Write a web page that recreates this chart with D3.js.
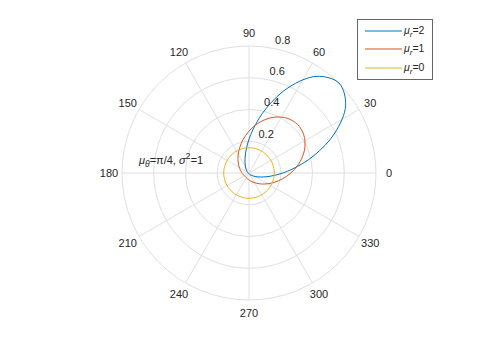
<!DOCTYPE html>
<html>
<head>
<meta charset="utf-8">
<script src="https://cdn.jsdelivr.net/npm/d3@7"></script>
<style>
  html, body { margin: 0; padding: 0; background: #ffffff; }
  svg { display: block; font-family: "Liberation Sans", Arial, Helvetica, sans-serif; }
</style>
</head>
<body>
<svg id="chart" width="480" height="360"></svg>
<script>
// Angles (degrees, counter-clockwise from 0°) at which the curves were read
const angles = [5,15,25,35,45,55,65,75,85,95,105,115,125,135,145,155,165,175,
                185,195,205,215,225,235,245,255,265,275,285,295,305,315,325,335,345,355];

// Radial values for each series
const seriesMu2 = [0.2722,0.4232,0.5970,0.7432,0.8013,0.7432,0.5970,0.4232,0.2722,0.1644,0.0964,0.0567,
                   0.0342,0.0215,0.0143,0.0100,0.0074,0.0058,0.0048,0.0041,0.0037,0.0035,0.0034,0.0035,
                   0.0037,0.0041,0.0048,0.0058,0.0074,0.0100,0.0143,0.0215,0.0342,0.0567,0.0964,0.1644];
const seriesMu1 = [0.2900,0.3425,0.3887,0.4207,0.4322,0.4207,0.3887,0.3425,0.2900,0.2380,0.1913,0.1521,
                   0.1208,0.0965,0.0781,0.0644,0.0542,0.0468,0.0414,0.0376,0.0351,0.0337,0.0332,0.0337,
                   0.0351,0.0376,0.0414,0.0468,0.0542,0.0644,0.0781,0.0965,0.1208,0.1521,0.1913,0.2380];
const seriesMu0 = [0.1592,0.1592,0.1592,0.1592,0.1592,0.1592,0.1592,0.1592,0.1592,0.1592,0.1592,0.1592,
                   0.1592,0.1592,0.1592,0.1592,0.1592,0.1592,0.1592,0.1592,0.1592,0.1592,0.1592,0.1592,
                   0.1592,0.1592,0.1592,0.1592,0.1592,0.1592,0.1592,0.1592,0.1592,0.1592,0.1592,0.1592];

const seriesNames = ["2", "1", "0"];
const seriesColors = ["#0072BD", "#D95319", "#EDB120"];

// Tick labels
const rTicks = [0.2, 0.4, 0.6, 0.8];
const rTickLabels = ["0.2", "0.4", "0.6", "0.8"];
const thetaTicks = [0, 30, 60, 90, 120, 150, 180, 210, 240, 270, 300, 330];
const thetaTickLabels = ["0","30","60","90","120","150","180","210","240","270","300","330"];

// ---- drawing ----
const svg = d3.select("#chart");
const cx = 249, cy = 173, R = 127;
const textColor = "#262626";
const gridColor = "#dfdfdf";

const r = d3.scaleLinear().domain([0, 0.8]).range([0, R]);
const toRad = d => d * Math.PI / 180;
// d3 radial angle: clockwise from 12 o'clock
const d3Angle = deg => Math.PI / 2 - toRad(deg);

const g = svg.append("g").attr("transform", `translate(${cx},${cy})`);

// grid circles
g.selectAll("circle.grid").data(rTicks).join("circle")
  .attr("class", "grid")
  .attr("r", d => r(d))
  .attr("fill", "none")
  .attr("stroke", gridColor)
  .attr("stroke-width", 1);

// spokes
g.selectAll("line.spoke").data(thetaTicks).join("line")
  .attr("class", "spoke")
  .attr("x1", 0).attr("y1", 0)
  .attr("x2", d => r(0.8) * Math.cos(toRad(d)))
  .attr("y2", d => -r(0.8) * Math.sin(toRad(d)))
  .attr("stroke", gridColor)
  .attr("stroke-width", 1);

// theta labels
g.selectAll("text.tlab").data(thetaTicks).join("text")
  .attr("class", "tlab")
  .attr("x", d => (R + 13) * Math.cos(toRad(d)))
  .attr("y", d => -(R + 13) * Math.sin(toRad(d)))
  .attr("dy", "0.35em")
  .attr("text-anchor", "middle")
  .attr("font-size", 11)
  .attr("fill", textColor)
  .text((d, i) => thetaTickLabels[i]);

// data curves
const allSeries = [seriesMu2, seriesMu1, seriesMu0];
const line = d3.lineRadial()
  .angle(d => d3Angle(d[0]))
  .radius(d => r(d[1]))
  .curve(d3.curveCatmullRomClosed.alpha(0.5));

allSeries.forEach((vals, k) => {
  const pts = angles.map((a, i) => [a, vals[i]]);
  g.append("path")
    .attr("d", line(pts))
    .attr("fill", "none")
    .attr("stroke", seriesColors[k])
    .attr("stroke-width", 1);
});

// r tick labels at 80 degrees
const rAxisAngle = 80;
g.selectAll("text.rlab").data(rTicks).join("text")
  .attr("class", "rlab")
  .attr("x", d => r(d) * Math.cos(toRad(rAxisAngle)) + 4)
  .attr("y", d => -r(d) * Math.sin(toRad(rAxisAngle)) - 8)
  .attr("dy", "0.35em")
  .attr("text-anchor", "start")
  .attr("font-size", 11)
  .attr("fill", textColor)
  .text((d, i) => rTickLabels[i]);

// annotation
const ann = svg.append("text")
  .attr("x", 139).attr("y", 164)
  .attr("font-size", 11)
  .attr("fill", textColor);
ann.append("tspan").attr("font-style", "italic").text("μ");
ann.append("tspan").attr("font-style", "italic").attr("font-size", 8.5).attr("dy", 3).text("θ");
ann.append("tspan").attr("dy", -3).text("=π/4, ");
ann.append("tspan").attr("font-style", "italic").text("σ");
ann.append("tspan").attr("font-size", 9).attr("dy", -5).text("2");
ann.append("tspan").attr("dy", 5).text("=1");

// legend
const leg = svg.append("g");
leg.append("rect")
  .attr("x", 357.5).attr("y", 19.5)
  .attr("width", 75).attr("height", 60)
  .attr("fill", "#ffffff")
  .attr("stroke", "#666666")
  .attr("stroke-width", 1);
const rowY = [31, 49, 68];
seriesNames.forEach((name, k) => {
  leg.append("line")
    .attr("x1", 365).attr("x2", 402)
    .attr("y1", rowY[k]).attr("y2", rowY[k])
    .attr("stroke", seriesColors[k])
    .attr("stroke-width", 1);
  const t = leg.append("text")
    .attr("x", 404).attr("y", rowY[k] + 3)
    .attr("font-size", 10.5)
    .attr("fill", textColor);
  t.append("tspan").attr("font-style", "italic").text("μ");
  t.append("tspan").attr("font-style", "italic").attr("font-size", 8).attr("dy", 3).text("r");
  t.append("tspan").attr("dy", -3).text("=" + name);
});
</script>
</body>
</html>
